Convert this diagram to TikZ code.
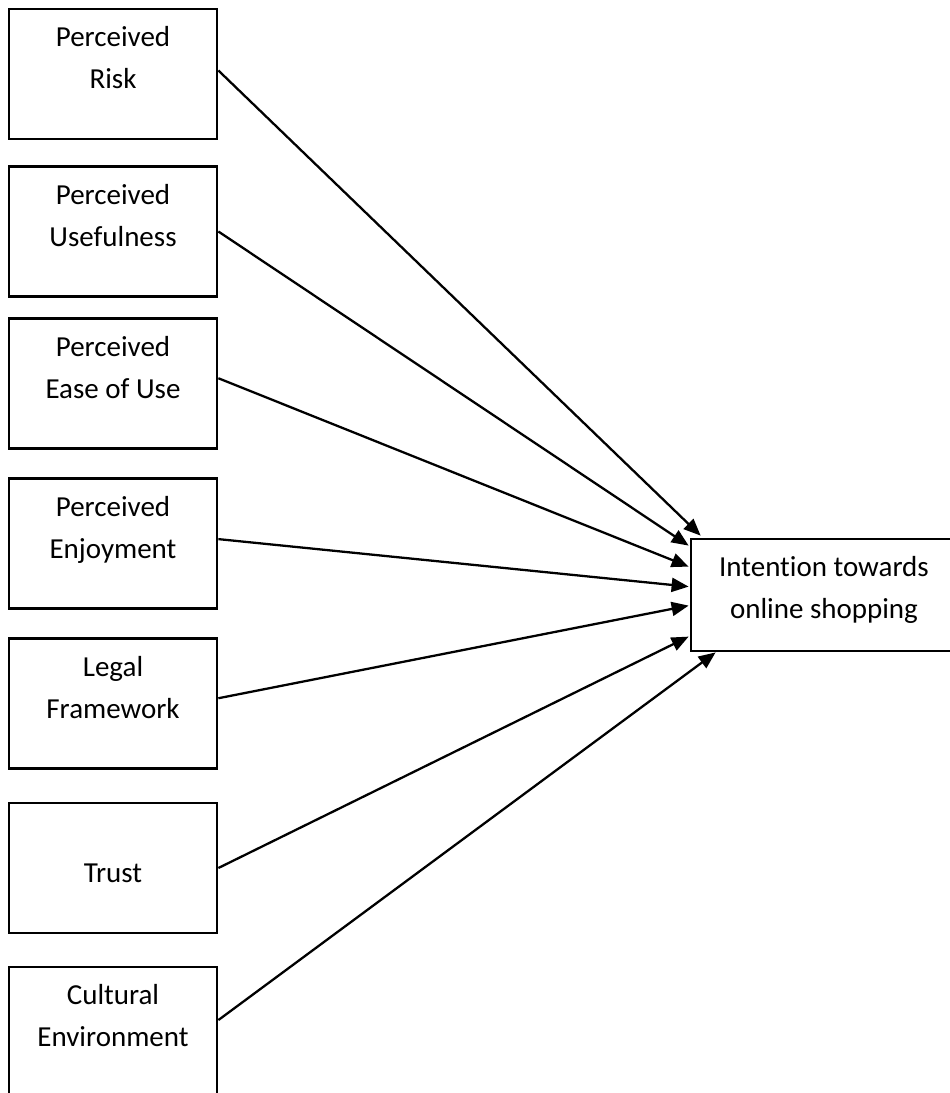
\documentclass[tikz,border=0pt]{standalone}
\usepackage{fontspec}
\setmainfont{Carlito}[Ligatures={NoCommon,NoContextual}]
\usetikzlibrary{arrows.meta,positioning,calc}

\begin{document}
\begin{tikzpicture}[
  x=0.02cm, y=-0.02cm,
  factor/.style={rectangle, draw=black, line width=1.6pt,
    minimum width=4.16cm, minimum height=2.6cm, inner sep=0pt},
  outcome/.style={rectangle, draw=black, line width=1.6pt,
    minimum width=5.32cm, minimum height=2.24cm, inner sep=0pt},
  boxtext/.style={anchor=north, inner sep=0pt, align=center,
    font={\fontsize{16.5}{23.7}\selectfont}},
  arr/.style={-{Triangle[length=0.34cm,width=0.28cm]}, black, line width=1.3pt},
]
  \useasboundingbox (0,0) rectangle (950,1093);

  % factors on the left
  \node[factor] (risk) at (113,74) {};
  \node[factor] (useful) at (113,231.5) {};
  \node[factor] (ease) at (113,383.5) {};
  \node[factor] (enjoy) at (113,543.5) {};
  \node[factor] (legal) at (113,703.5) {};
  \node[factor] (trust) at (113,868) {};
  \node[factor] (culture) at (113,1032) {};

  \node[boxtext] (risk-t) at ([yshift=-5.6pt]risk.north) {\strut Perceived\\Risk};
  \node[boxtext] (useful-t) at ([yshift=-5.6pt]useful.north) {\strut Perceived\\Usefulness};
  \node[boxtext] (ease-t) at ([yshift=-5.6pt]ease.north) {\strut Perceived\\Ease of Use};
  \node[boxtext] (enjoy-t) at ([yshift=-5.6pt]enjoy.north) {\strut Perceived\\Enjoyment};
  \node[boxtext] (legal-t) at ([yshift=-5.6pt]legal.north) {\strut Legal\\Framework};
  \node[boxtext] (trust-t) at ([yshift=-5.6pt]trust.north) {\strut\\Trust};
  \node[boxtext] (culture-t) at ([yshift=-5.6pt]culture.north) {\strut Cultural\\Environment};

  % outcome on the right
  \node[outcome] (intent) at (824,595) {};
  \node[boxtext] (intent-t) at ([yshift=-5.6pt]intent.north)
    {\strut Intention towards\\online shopping};

  \draw[arr] ([yshift=2pt]risk.east) -- ($(intent.north west)+(11,-2)$);
  \draw[arr] (useful.east) -- ($(intent.north west)+(-1,8)$);
  \draw[arr] ([yshift=3pt]ease.east) -- ($(intent.north west)+(-1,29)$);
  \draw[arr] ([yshift=2.5pt]enjoy.east) -- ($(intent.north west)+(-1,49)$);
  \draw[arr] ([yshift=3pt]legal.east) -- ($(intent.north west)+(-1,68)$);
  \draw[arr] (trust.east) -- ($(intent.north west)+(-1,99)$);
  \draw[arr] ([yshift=6.8pt]culture.east) -- ($(intent.south west)+(26,0)$);
\end{tikzpicture}
\end{document}
